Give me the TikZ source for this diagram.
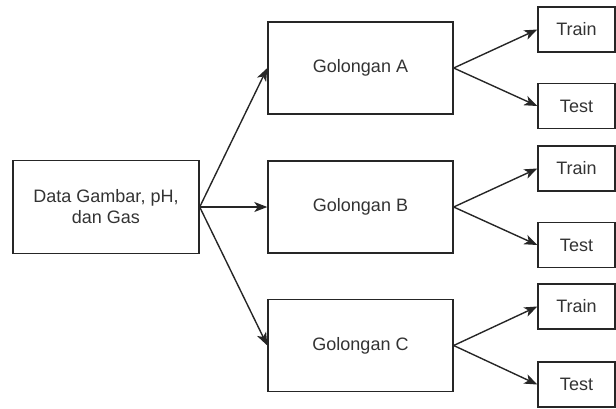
\documentclass[tikz,border=0pt]{standalone}
\usepackage{fontspec}
\setmainfont{Liberation Sans}
\usetikzlibrary{arrows.meta}
\begin{document}
\begin{tikzpicture}[x=1pt,y=-1pt,
  box/.style={draw=black!85,line width=1.4pt,inner sep=0pt,align=center,
    font=\fontsize{18}{21}\selectfont,text=black!80},
  conn/.style={draw=black!85,line width=1.4pt,-{Stealth[length=13pt,width=10pt,inset=3.5pt]}}]
\useasboundingbox (0,0) rectangle (616,408);
\node[box,minimum width=186pt,minimum height=93pt] (src) at (106,207) {Data Gambar, pH,\\dan Gas};
\node[box,minimum width=185pt,minimum height=92pt] (ga) at (360.5,68) {Golongan A};
\node[box,minimum width=185pt,minimum height=92pt] (gb) at (360.5,207) {Golongan B};
\node[box,minimum width=185pt,minimum height=92pt] (gc) at (360.5,345.5) {Golongan C};
\node[box,minimum width=77pt,minimum height=45pt] (tra) at (576.5,29.5) {Train};
\node[box,minimum width=77pt,minimum height=45pt] (tea) at (576.5,106) {Test};
\node[box,minimum width=77pt,minimum height=45pt] (trb) at (576.5,168.5) {Train};
\node[box,minimum width=77pt,minimum height=45pt] (teb) at (576.5,245) {Test};
\node[box,minimum width=77pt,minimum height=45pt] (trc) at (576.5,306.5) {Train};
\node[box,minimum width=77pt,minimum height=45pt] (tec) at (576.5,384.5) {Test};
\draw[conn] (src.east) -- (ga.west);
\draw[conn] (src.east) -- (gb.west);
\draw[conn] (src.east) -- (gc.west);
\draw[conn] (ga.east) -- (tra.west);
\draw[conn] (ga.east) -- (tea.west);
\draw[conn] (gb.east) -- (trb.west);
\draw[conn] (gb.east) -- (teb.west);
\draw[conn] (gc.east) -- (trc.west);
\draw[conn] (gc.east) -- (tec.west);
\end{tikzpicture}
\end{document}
